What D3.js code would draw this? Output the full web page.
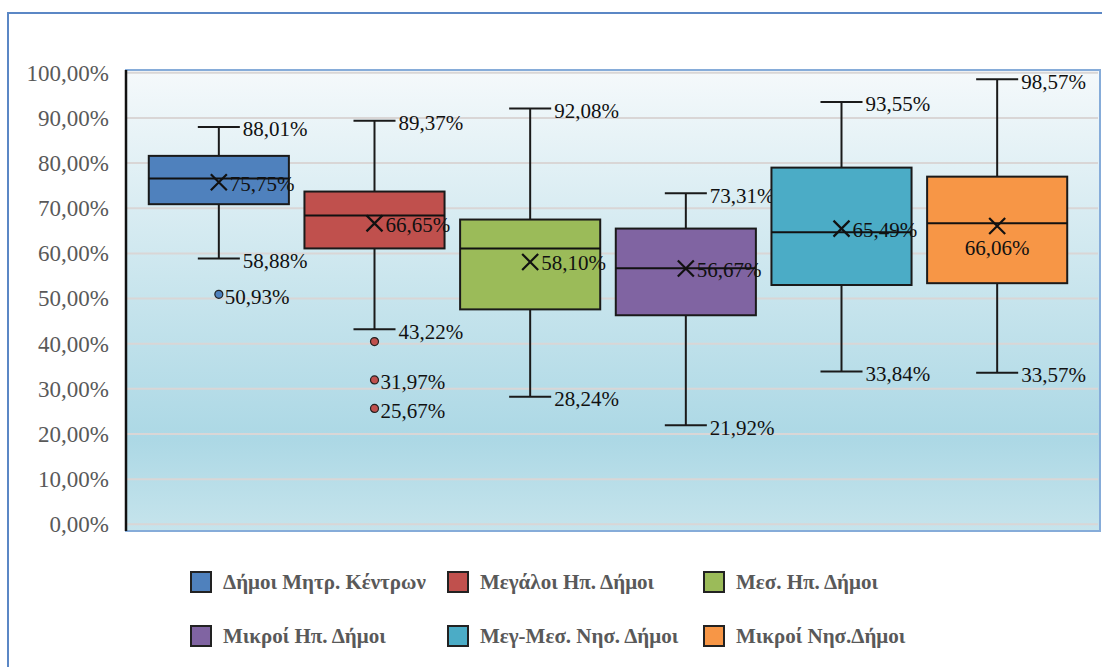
<!DOCTYPE html>
<html>
<head>
<meta charset="utf-8">
<script src="https://cdn.jsdelivr.net/npm/d3@7"></script>
<style>
  body { margin: 0; background: #fff; }
  text { font-family: "Liberation Serif", "Times New Roman", serif; }
</style>
</head>
<body>
<div id="chart"></div>
<script>
// data (percent)
const categories = ["Δήμοι Μητρ. Κέντρων", "Μεγάλοι Ηπ. Δήμοι", "Μεσ. Ηπ. Δήμοι",
                    "Μικροί Ηπ. Δήμοι", "Μεγ-Μεσ. Νησ. Δήμοι", "Μικροί Νησ.Δήμοι"];
const whiskerHigh = [88.01, 89.37, 92.08, 73.31, 93.55, 98.57];
const q3Values    = [81.6, 73.7, 67.5, 65.5, 79.0, 77.0];
const medians     = [76.6, 68.4, 61.1, 56.7, 64.7, 66.7];
const q1Values    = [70.9, 61.1, 47.6, 46.3, 53.0, 53.4];
const whiskerLow  = [58.88, 43.22, 28.24, 21.92, 33.84, 33.57];
const means       = [75.75, 66.65, 58.10, 56.67, 65.49, 66.06];
const outliers    = [[50.93], [40.48, 31.97, 25.67], [], [], [], []];
const outlierLabelShown = [[true], [false, true, true], [], [], [], []];
const yTicks = [0, 10, 20, 30, 40, 50, 60, 70, 80, 90, 100];

const colors = ["#4f81bd", "#c0504d", "#9bbb59", "#8064a2", "#4bacc6", "#f79646"];
const meanLabelBelow = [false, false, false, false, false, true];

const svgWidth = 1102, svgHeight = 667;
const plot = { left: 126, top: 70, right: 1100, bottom: 531 };

const locale = d3.formatLocale({ decimal: ",", thousands: ".", grouping: [3], currency: ["", "€"] });
const pct = v => locale.format(".2f")(v) + "%";

const svg = d3.select("#chart").append("svg")
    .attr("width", svgWidth)
    .attr("height", svgHeight);

// outer chart border
svg.append("rect")
    .attr("x", 8).attr("y", 13)
    .attr("width", 1110).attr("height", 700)
    .attr("fill", "#fff")
    .attr("stroke", "#5b87c5")
    .attr("stroke-width", 2);

const defs = svg.append("defs");
const grad = defs.append("linearGradient")
    .attr("id", "bg").attr("x1", 0).attr("y1", 0).attr("x2", 0).attr("y2", 1);
grad.append("stop").attr("offset", "0%").attr("stop-color", "#f5f9fb");
grad.append("stop").attr("offset", "45%").attr("stop-color", "#cbe6ee");
grad.append("stop").attr("offset", "80%").attr("stop-color", "#acd8e5");
grad.append("stop").attr("offset", "100%").attr("stop-color", "#c6e4ec");

svg.append("rect")
    .attr("x", plot.left).attr("y", plot.top)
    .attr("width", plot.right - plot.left).attr("height", plot.bottom - plot.top)
    .attr("fill", "url(#bg)")
    .attr("stroke", "#86acd9")
    .attr("stroke-width", 2);

const y = d3.scaleLinear().domain([0, 100]).range([524.3, 72.8]);
const x = d3.scaleBand().domain(categories)
    .range([141, 1075])
    .paddingInner(0.1)
    .paddingOuter(0.05);

// gridlines
svg.append("g")
    .selectAll("line")
    .data(yTicks)
    .join("line")
    .attr("x1", plot.left + 1).attr("x2", plot.right - 2)
    .attr("y1", d => y(d)).attr("y2", d => y(d))
    .attr("stroke", "#d9d6d6")
    .attr("stroke-width", 2);

// y axis
const yAxis = svg.append("g")
    .attr("transform", `translate(${plot.left},0)`)
    .call(d3.axisLeft(y).tickValues(yTicks).tickFormat(pct).tickSize(0).tickPadding(17));
yAxis.select(".domain").remove();
yAxis.selectAll("text")
    .attr("font-size", 23)
    .attr("fill", "#595959")
    .style("font-family", '"Liberation Serif", "Times New Roman", serif');

svg.append("line")
    .attr("x1", plot.left).attr("x2", plot.left)
    .attr("y1", plot.top).attr("y2", plot.bottom)
    .attr("stroke", "#111")
    .attr("stroke-width", 2.5);

const bw = x.bandwidth();
const capHalf = bw * 0.15;
const groups = svg.append("g")
    .selectAll("g")
    .data(categories)
    .join("g")
    .attr("transform", d => `translate(${x(d) + bw / 2},0)`);

// whiskers
groups.append("line")
    .attr("y1", (d, i) => y(whiskerHigh[i])).attr("y2", (d, i) => y(q3Values[i]))
    .attr("stroke", "#1a1a1a").attr("stroke-width", 2);
groups.append("line")
    .attr("y1", (d, i) => y(whiskerLow[i])).attr("y2", (d, i) => y(q1Values[i]))
    .attr("stroke", "#1a1a1a").attr("stroke-width", 2);
groups.append("line")
    .attr("x1", -capHalf).attr("x2", capHalf)
    .attr("y1", (d, i) => y(whiskerHigh[i])).attr("y2", (d, i) => y(whiskerHigh[i]))
    .attr("stroke", "#1a1a1a").attr("stroke-width", 2);
groups.append("line")
    .attr("x1", -capHalf).attr("x2", capHalf)
    .attr("y1", (d, i) => y(whiskerLow[i])).attr("y2", (d, i) => y(whiskerLow[i]))
    .attr("stroke", "#1a1a1a").attr("stroke-width", 2);

// boxes
groups.append("rect")
    .attr("x", -bw / 2).attr("width", bw)
    .attr("y", (d, i) => y(q3Values[i]))
    .attr("height", (d, i) => y(q1Values[i]) - y(q3Values[i]))
    .attr("fill", (d, i) => colors[i])
    .attr("stroke", "#1a1a1a")
    .attr("stroke-width", 2);
groups.append("line")
    .attr("x1", -bw / 2).attr("x2", bw / 2)
    .attr("y1", (d, i) => y(medians[i])).attr("y2", (d, i) => y(medians[i]))
    .attr("stroke", "#111").attr("stroke-width", 2);

// mean markers
const xs = 8;
groups.append("path")
    .attr("d", (d, i) => {
        const m = y(means[i]);
        return `M${-xs},${m - xs}L${xs},${m + xs}M${-xs},${m + xs}L${xs},${m - xs}`;
    })
    .attr("stroke", "#111").attr("stroke-width", 2.2).attr("fill", "none");

// outliers
groups.each(function (d, i) {
    const g = d3.select(this);
    outliers[i].forEach((v, j) => {
        g.append("circle")
            .attr("cx", 0).attr("cy", y(v)).attr("r", 4)
            .attr("fill", colors[i])
            .attr("stroke", "#222").attr("stroke-width", 1.2);
        if (outlierLabelShown[i][j]) {
            g.append("text")
                .attr("x", 6).attr("y", y(v) + 2)
                .attr("dy", "0.35em")
                .attr("font-size", 21).attr("fill", "#111")
                .text(pct(v));
        }
    });
});

// data labels
groups.append("text")
    .attr("x", capHalf + 3).attr("y", (d, i) => y(whiskerHigh[i]) + 2)
    .attr("dy", "0.35em").attr("font-size", 21).attr("fill", "#111")
    .text((d, i) => pct(whiskerHigh[i]));
groups.append("text")
    .attr("x", capHalf + 3).attr("y", (d, i) => y(whiskerLow[i]) + 2)
    .attr("dy", "0.35em").attr("font-size", 21).attr("fill", "#111")
    .text((d, i) => pct(whiskerLow[i]));
groups.append("text")
    .attr("x", (d, i) => meanLabelBelow[i] ? 0 : xs + 3)
    .attr("y", (d, i) => y(means[i]) + (meanLabelBelow[i] ? 22 : 1))
    .attr("text-anchor", (d, i) => meanLabelBelow[i] ? "middle" : "start")
    .attr("dy", "0.35em").attr("font-size", 21).attr("fill", "#111")
    .text((d, i) => pct(means[i]));

// legend
const legendCols = [191, 448, 704];
const legendRows = [582, 636];
const legend = svg.append("g")
    .selectAll("g")
    .data(categories)
    .join("g")
    .attr("transform", (d, i) => `translate(${legendCols[i % 3]},${legendRows[Math.floor(i / 3)]})`);
legend.append("rect")
    .attr("x", 0).attr("y", -10).attr("width", 20).attr("height", 20)
    .attr("fill", (d, i) => colors[i])
    .attr("stroke", "#222").attr("stroke-width", 2);
legend.append("text")
    .attr("x", 32).attr("dy", "0.35em")
    .attr("font-size", 21).attr("font-weight", "bold")
    .attr("fill", "#595959")
    .text(d => d);
</script>
</body>
</html>
